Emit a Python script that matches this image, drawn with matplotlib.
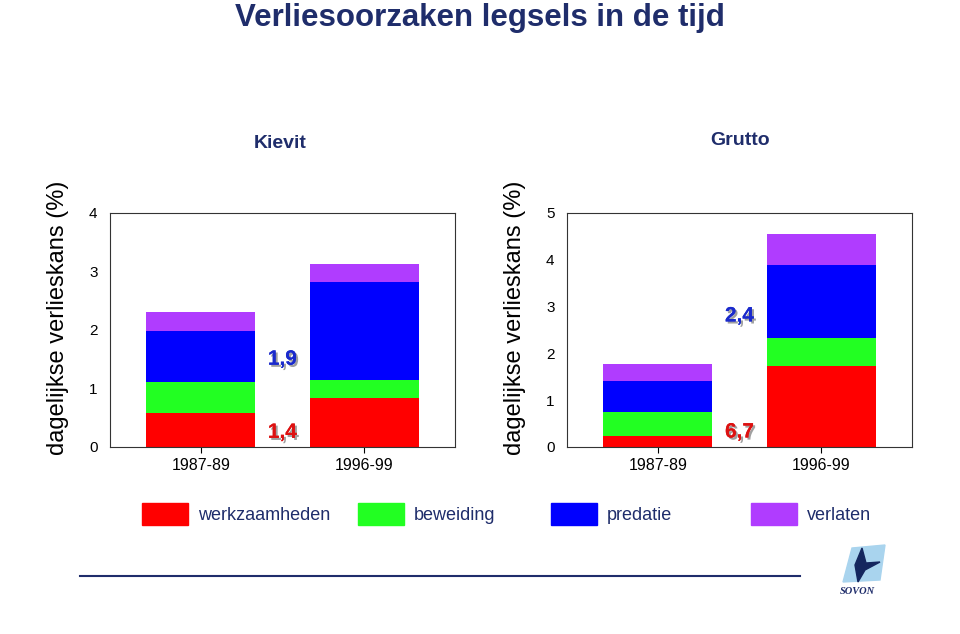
import matplotlib
matplotlib.use("Agg")
import matplotlib.pyplot as plt
import matplotlib.patheffects as pe
from matplotlib.patches import Rectangle, Polygon

# data (daily loss chance, %)
periods = ["1987-89", "1996-99"]
causes = ["werkzaamheden", "beweiding", "predatie", "verlaten"]
colors = ["#ff0000", "#22ff22", "#0000ff", "#b03cff"]

kievit_werk = [0.58, 0.83]
kievit_bew = [0.53, 0.32]
kievit_pred = [0.87, 1.67]
kievit_verl = [0.33, 0.30]

grutto_werk = [0.24, 1.73]
grutto_bew = [0.50, 0.60]
grutto_pred = [0.66, 1.55]
grutto_verl = [0.38, 0.67]

kievit_labels = ["1,4", "1,9"]
grutto_labels = ["6,7", "2,4"]

navy = "#1f2d6b"
plt.rcParams["font.family"] = ["Liberation Sans", "DejaVu Sans"]

fig = plt.figure(figsize=(9.6, 6.34), dpi=100)
W, H = 960, 634


def ax_at(x0, y0, x1, y1):
    return fig.add_axes([x0 / W, 1 - y1 / H, (x1 - x0) / W, (y1 - y0) / H])


def stacked(ax, series, ymax):
    x = list(range(len(periods)))
    bottom = [0] * len(periods)
    for vals, c in zip(series, colors):
        ax.bar(x, vals, width=0.667, bottom=bottom, color=c, linewidth=0)
        bottom = [b + v for b, v in zip(bottom, vals)]
    ax.set_xlim(-0.555, 1.555)
    ax.set_ylim(0, ymax)
    ax.set_yticks(range(ymax + 1))
    ax.set_xticks(x)
    ax.set_xticklabels(periods, fontsize=11.5)
    ax.tick_params(axis="y", length=0, labelsize=11, pad=9)
    ax.tick_params(axis="x", length=4, width=0.8, pad=4)
    for s in ax.spines.values():
        s.set_linewidth(0.8)
        s.set_color("#333333")
    ax.set_ylabel("dagelijkse verlieskans (%)", fontsize=17)
    ax.yaxis.set_label_coords(-0.12, 0.55)


def shadow_text(ax, x, y, txt, col):
    ax.text(x, y, txt, color=col, fontsize=15, fontweight="bold",
            ha="center", va="center",
            path_effects=[pe.withSimplePatchShadow(offset=(1.5, -1.5),
                                                    shadow_rgbFace="#888888",
                                                    alpha=0.8),
                          pe.Normal()])


ax1 = ax_at(110, 213, 455, 447)
stacked(ax1, [kievit_werk, kievit_bew, kievit_pred, kievit_verl], 4)
shadow_text(ax1, 0.5, 0.25, kievit_labels[0], "#dd1111")
shadow_text(ax1, 0.5, 1.5, kievit_labels[1], "#1a2acc")

ax2 = ax_at(567, 213, 912, 447)
stacked(ax2, [grutto_werk, grutto_bew, grutto_pred, grutto_verl], 5)
shadow_text(ax2, 0.5, 0.32, grutto_labels[0], "#dd1111")
shadow_text(ax2, 0.5, 2.8, grutto_labels[1], "#1a2acc")

# titles
fig.text(480 / W, 1 - 18 / H, "Verliesoorzaken legsels in de tijd",
         ha="center", va="center", fontsize=22.5, fontweight="bold",
         color=navy)
fig.text(280 / W, 1 - 143 / H, "Kievit", ha="center", va="center",
         fontsize=14, fontweight="bold", color=navy)
fig.text(740 / W, 1 - 141 / H, "Grutto", ha="center", va="center",
         fontsize=14, fontweight="bold", color=navy)

# legend drawn as patches in figure coords
leg_x = [142, 358, 551, 751]
for lx, c, name in zip(leg_x, colors, causes):
    fig.patches.append(Rectangle((lx / W, 1 - 525 / H), 46 / W, 22 / H,
                                 transform=fig.transFigure, color=c))
    fig.text((lx + 56) / W, 1 - 516 / H, name, ha="left", va="center",
             fontsize=13, color=navy)

# bottom rule and logo
fig.add_artist(plt.Line2D([80 / W, 800 / W], [1 - 576 / H, 1 - 576 / H],
                          color=navy, linewidth=1.5))
fig.patches.append(Polygon([(843 / W, 1 - 582 / H), (852 / W, 1 - 548 / H),
                            (885 / W, 1 - 545 / H), (880 / W, 1 - 580 / H)],
                           closed=True, transform=fig.transFigure,
                           color="#a9d4ee"))
fig.patches.append(Polygon([(862 / W, 1 - 548 / H), (855 / W, 1 - 565 / H),
                            (858 / W, 1 - 582 / H), (865 / W, 1 - 570 / H),
                            (880 / W, 1 - 562 / H), (866 / W, 1 - 563 / H)],
                           closed=True, transform=fig.transFigure,
                           color="#14265e"))
fig.text(857 / W, 1 - 592 / H, "SOVON", ha="center", va="center",
         fontsize=7.5, fontweight="bold", style="italic", color=navy,
         family=["Liberation Serif", "DejaVu Serif"])

fig.savefig("out.png", dpi=100)
